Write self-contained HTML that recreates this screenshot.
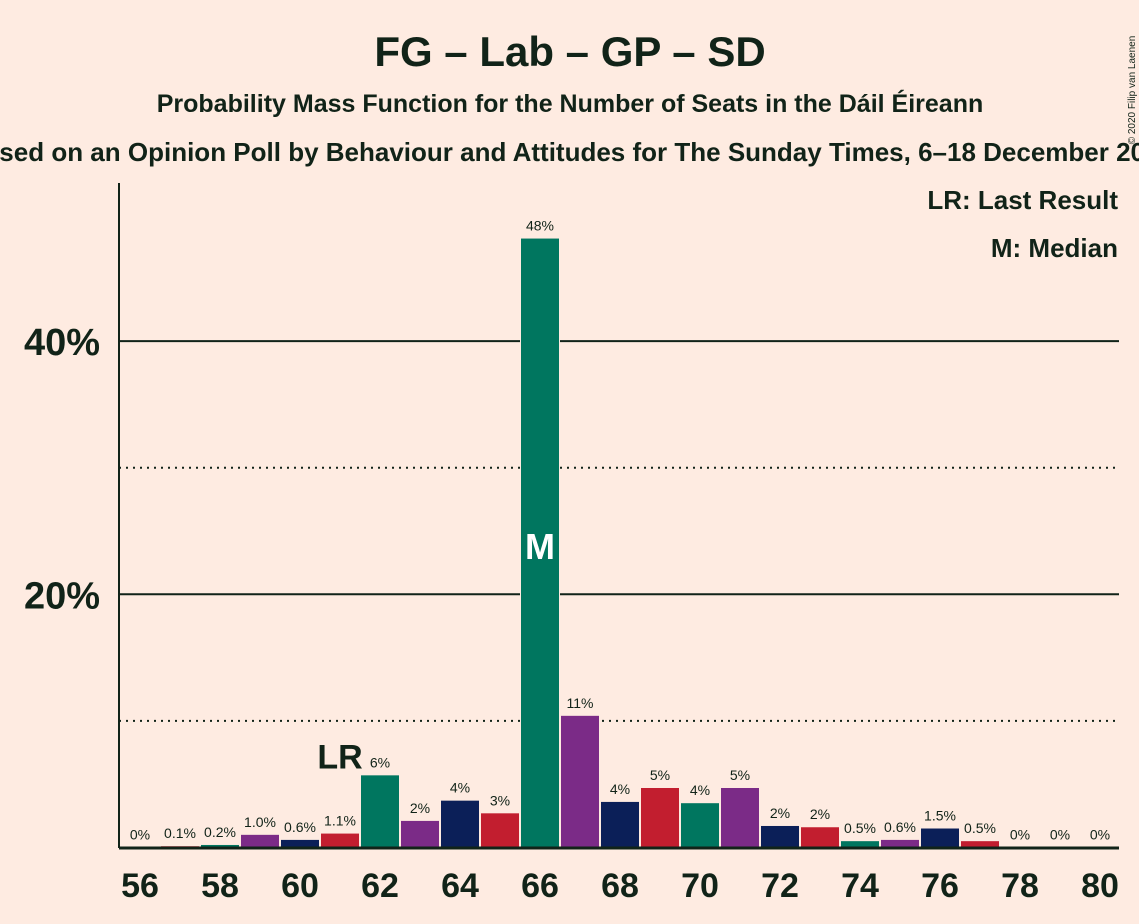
<!DOCTYPE html>
<html><head><meta charset="utf-8"><style>
body{margin:0;background:#feebe1;}
svg{display:block;font-family:"Liberation Sans",sans-serif;}
</style></head><body>
<svg width="1139" height="924">
<rect width="1139" height="924" fill="#feebe1"/>
<text x="570" y="66" text-anchor="middle" font-size="42" font-weight="bold" fill="#112318">FG – Lab – GP – SD</text>
<text x="570" y="112" text-anchor="middle" font-size="25" font-weight="bold" fill="#112318">Probability Mass Function for the Number of Seats in the Dáil Éireann</text>
<text x="570" y="161" text-anchor="middle" font-size="26" font-weight="bold" fill="#112318">Based on an Opinion Poll by Behaviour and Attitudes for The Sunday Times, 6–18 December 2019</text>
<text x="1135" y="90" font-size="10" fill="#112318" transform="rotate(-90 1135 90)" text-anchor="middle">© 2020 Filip van Laenen</text>
<g id="grid"></g>
<g id="bars"></g>
<line x1="119" y1="183" x2="119" y2="848" stroke="#112318" stroke-width="2"/>
<line x1="119" y1="848" x2="1119" y2="848" stroke="#112318" stroke-width="3"/>
<g id="xt"></g>
<text x="1118" y="209" text-anchor="end" font-size="26" font-weight="bold" fill="#112318">LR: Last Result</text>
<text x="1118" y="257" text-anchor="end" font-size="26" font-weight="bold" fill="#112318">M: Median</text>
</svg>
<script>
const seats=[56,57,58,59,60,61,62,63,64,65,66,67,68,69,70,71,72,73,74,75,76,77,78,79,80];
const probs=[0,0.1,0.2,1.0,0.6,1.1,5.7,2.1,3.7,2.7,48.1,10.4,3.6,4.7,3.5,4.7,1.7,1.6,0.5,0.6,1.5,0.5,0,0,0];
const labels=["0%","0.1%","0.2%","1.0%","0.6%","1.1%","6%","2%","4%","3%","48%","11%","4%","5%","4%","5%","2%","2%","0.5%","0.6%","1.5%","0.5%","0%","0%","0%"];
const yTicks=[10,20,30,40];
const yTickLabels=["","20%","","40%"];
const lastResult=61, median=66;
const colors=["#00765f","#7b2b87","#0b1f58","#c21e2f"];
const NS="http://www.w3.org/2000/svg";
const x=s=>140+(s-56)*40;
const y=v=>847.5-v*12.66;
function mk(t,a,p){const e=document.createElementNS(NS,t);for(const k in a)e.setAttribute(k,a[k]);p.appendChild(e);return e;}
const grid=document.getElementById('grid'),bars=document.getElementById('bars'),xt=document.getElementById('xt');
yTicks.forEach((v,i)=>{
 const major=v%20===0;
 const l=mk('line',{x1:119,x2:1119,y1:y(v),y2:y(v),stroke:'#112318','stroke-width':2,'stroke-dasharray':major?'':'2 5'},grid);
 
 
 if(yTickLabels[i]){const t=mk('text',{x:100,y:y(v)+14,'text-anchor':'end','font-size':38,'font-weight':'bold',fill:'#112318'},grid);t.textContent=yTickLabels[i];
 
 }
});
seats.forEach((s,i)=>{
 const v=probs[i];
 if(v>0){const r=mk('rect',{x:x(s)-20,y:y(v)-1,width:40,height:847.5-y(v)+1,fill:'#feebe1'},bars);
 
 
 const b=mk('rect',{x:x(s)-19,y:y(v),width:38,height:847.5-y(v),fill:colors[((s-62)%4+4)%4]},bars);
 
 }
 const t=mk('text',{x:x(s),y:y(v)-8,'text-anchor':'middle','font-size':14,fill:'#112318'},bars);t.textContent=labels[i];
 
 
 if(s%2===0){const k=mk('text',{x:x(s),y:897,'text-anchor':'middle','font-size':34,'font-weight':'bold',fill:'#112318'},xt);k.textContent=s;
 
 }
 if(s===lastResult){const k=mk('text',{x:x(s),y:y(v)-65,'text-anchor':'middle','font-size':34,'font-weight':'bold',fill:'#112318'},bars);k.textContent='LR';
 
 }
 if(s===median){const k=mk('text',{x:x(s),y:559,'text-anchor':'middle','font-size':36,'font-weight':'bold',fill:'#ffffff'},bars);k.textContent='M';
 
 }
});
</script>
</body></html>
